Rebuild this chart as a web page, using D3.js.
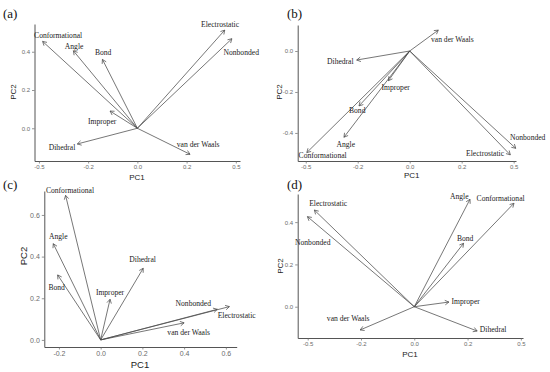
<!DOCTYPE html>
<html>
<head>
	<script src="https://d3js.org/d3.v7.min.js"></script>
	<style>
		body { margin: 0; background: #fff; }
		.var-text { font-family: "Liberation Serif", "DejaVu Serif", serif; font-size: 7.6px; fill: #222; }
		.panel-tag { font-family: "Liberation Serif", "DejaVu Serif", serif; font-size: 13px; fill: #111; }
		.tick text { font-family: "Liberation Sans", Arial, sans-serif; fill: #6b6b6b; }
		.axis-title { font-family: "Liberation Sans", Arial, sans-serif; fill: #222; }
	</style>
</head>
<body>
	<div id="chart"></div>

	<script type="text/javascript">
		// variable names (same order for every panel)
		var varNames = ["Conformational","Angle","Bond","Improper","Dihedral","van der Waals","Electrostatic","Nonbonded"];

		// loadings
		var pc1_a = [-0.385,-0.260,-0.142,-0.111,-0.244, 0.214, 0.355, 0.384];
		var pc2_a = [ 0.454, 0.405, 0.360, 0.090,-0.082,-0.136, 0.513, 0.468];
		var pc1_b = [-0.396,-0.253,-0.195,-0.082,-0.204, 0.110, 0.387, 0.408];
		var pc2_b = [-0.496,-0.421,-0.268,-0.145,-0.044, 0.102,-0.507,-0.475];
		var pc1_c = [-0.168,-0.227,-0.206, 0.045, 0.204, 0.400, 0.559, 0.617];
		var pc2_c = [ 0.694, 0.462, 0.312, 0.195, 0.344, 0.082, 0.147, 0.160];
		var pc1_d = [ 0.374, 0.209, 0.185, 0.130, 0.236,-0.203,-0.375,-0.401];
		var pc2_d = [ 0.489, 0.508, 0.300, 0.022,-0.115,-0.110, 0.457, 0.426];

		// where the repelled labels sit (data units)
		var lab1_a = [-0.322,-0.257,-0.139,-0.143,-0.306, 0.247, 0.336, 0.422];
		var lab2_a = [ 0.487, 0.430, 0.398, 0.038,-0.098,-0.082, 0.545, 0.398];
		var lab1_b = [-0.335,-0.246,-0.202,-0.054,-0.267, 0.164, 0.290, 0.454];
		var lab2_b = [-0.509,-0.455,-0.289,-0.177,-0.049, 0.057,-0.499,-0.420];
		var lab1_c = [-0.147,-0.203,-0.211, 0.045, 0.201, 0.422, 0.652, 0.444];
		var lab2_c = [ 0.719, 0.499, 0.251, 0.230, 0.385, 0.035, 0.118, 0.176];
		var lab1_d = [ 0.324, 0.169, 0.191, 0.193, 0.296,-0.248,-0.323,-0.381];
		var lab2_d = [ 0.511, 0.520, 0.325, 0.024,-0.107,-0.053, 0.489, 0.306];

		// tick values and labels
		var xTicks_abd = [-0.4,-0.2,0,0.2,0.4];
		var xLabels_abd = ["-0.5","-0.2","0.0","0.2","0.5"];
		var xTicks_c = [-0.2,0,0.2,0.4,0.6];
		var xLabels_c = ["-0.2","0.0","0.2","0.4","0.6"];
		var yTicks_ad = [0,0.2,0.4];
		var yLabels_ad = ["0.0","0.2","0.4"];
		var yTicks_b = [-0.4,-0.2,0];
		var yLabels_b = ["-0.4","-0.2","0.0"];
		var yTicks_c = [0,0.2,0.4,0.6];
		var yLabels_c = ["0.0","0.2","0.4","0.6"];

		var svg = d3.select("#chart")
			.append("svg")
			.attr("width",550)
			.attr("height",372);

		var panels = [
			{tag:"(a)", tagX:3, tagY:18, pc1:pc1_a, pc2:pc2_a, l1:lab1_a, l2:lab2_a,
			 xd:[-0.418,0.417], xr:[34.5,240], yd:[-0.171,0.545], yr:[161,24],
			 xt:xTicks_abd, xl:xLabels_abd, yt:yTicks_ad, yl:yLabels_ad,
			 tickFont:6, titleFont:8, pc1Pos:[137,180], pc2Pos:[13,92]},
			{tag:"(b)", tagX:287, tagY:18, pc1:pc1_b, pc2:pc2_b, l1:lab1_b, l2:lab2_b,
			 xd:[-0.431,0.409], xr:[297.7,516], yd:[-0.537,0.127], yr:[161,25],
			 xt:xTicks_abd, xl:xLabels_abd, yt:yTicks_b, yl:yLabels_b,
			 tickFont:6, titleFont:8, pc1Pos:[411.7,178], pc2Pos:[279,92]},
			{tag:"(c)", tagX:3, tagY:189, pc1:pc1_c, pc2:pc2_c, l1:lab1_c, l2:lab2_c,
			 xd:[-0.270,0.652], xr:[44.3,236.7], yd:[-0.034,0.715], yr:[347,191],
			 xt:xTicks_c, xl:xLabels_c, yt:yTicks_c, yl:yLabels_c,
			 tickFont:7, titleFont:9.5, pc1Pos:[140,368], pc2Pos:[24,256]},
			{tag:"(d)", tagX:287, tagY:189, pc1:pc1_d, pc2:pc2_d, l1:lab1_d, l2:lab2_d,
			 xd:[-0.4375,0.408], xr:[297.7,523], yd:[-0.148,0.533], yr:[338,194],
			 xt:xTicks_abd, xl:xLabels_abd, yt:yTicks_ad, yl:yLabels_ad,
			 tickFont:6, titleFont:8, pc1Pos:[410,357], pc2Pos:[280,266]}
		];

		panels.forEach(drawPanel);

		function drawPanel(p){
			var x = d3.scaleLinear().domain(p.xd).range(p.xr);
			var y = d3.scaleLinear().domain(p.yd).range(p.yr);
			var g = svg.append("g");

			g.append("text")
				.attr("class","panel-tag")
				.attr("x",p.tagX)
				.attr("y",p.tagY)
				.text(p.tag);

			var xAxis = g.append("g")
				.attr("transform","translate(0," + p.yr[0] + ")")
				.call(d3.axisBottom(x).tickValues(p.xt)
					.tickFormat(function(d,i){ return p.xl[i]; })
					.tickSize(2.5).tickSizeOuter(0).tickPadding(1.5));
			var yAxis = g.append("g")
				.attr("transform","translate(" + p.xr[0] + ",0)")
				.call(d3.axisLeft(y).tickValues(p.yt)
					.tickFormat(function(d,i){ return p.yl[i]; })
					.tickSize(2.5).tickSizeOuter(0).tickPadding(2));

			[xAxis,yAxis].forEach(function(a){
				a.select(".domain").attr("stroke","#555").attr("stroke-width",1);
				a.selectAll(".tick line").attr("stroke","#666").attr("stroke-width",0.7);
				a.selectAll(".tick text").style("font-size",p.tickFont + "px");
			});

			g.append("text")
				.attr("class","axis-title")
				.attr("x",p.pc1Pos[0])
				.attr("y",p.pc1Pos[1])
				.attr("text-anchor","middle")
				.style("font-size",p.titleFont + "px")
				.text("PC1");
			g.append("text")
				.attr("class","axis-title")
				.attr("transform","translate(" + p.pc2Pos[0] + "," + p.pc2Pos[1] + ") rotate(-90)")
				.attr("text-anchor","middle")
				.attr("dy","0.35em")
				.style("font-size",p.titleFont + "px")
				.text("PC2");

			var rows = varNames.map(function(n,i){
				return {name:n, a:p.pc1[i], b:p.pc2[i], la:p.l1[i], lb:p.l2[i]};
			});

			var arrows = g.append("g");
			arrows.selectAll("line")
				.data(rows)
				.enter().append("line")
				.attr("x1",x(0)).attr("y1",y(0))
				.attr("x2",function(d){ return x(d.a); })
				.attr("y2",function(d){ return y(d.b); })
				.attr("stroke","#4a4a4a")
				.attr("stroke-width",0.75);

			// open arrow heads
			arrows.selectAll("path")
				.data(rows)
				.enter().append("path")
				.attr("d",function(d){
					var tx = x(d.a), ty = y(d.b);
					var ang = Math.atan2(ty - y(0), tx - x(0));
					var len = 4.5, spread = Math.PI/6;
					var p1 = [tx - len*Math.cos(ang - spread), ty - len*Math.sin(ang - spread)];
					var p2 = [tx - len*Math.cos(ang + spread), ty - len*Math.sin(ang + spread)];
					return "M" + p1 + "L" + tx + "," + ty + "L" + p2;
				})
				.attr("fill","none")
				.attr("stroke","#4a4a4a")
				.attr("stroke-width",0.75);

			g.append("g").selectAll("text")
				.data(rows)
				.enter().append("text")
				.attr("class","var-text")
				.attr("x",function(d){ return x(d.la); })
				.attr("y",function(d){ return y(d.lb); })
				.attr("text-anchor","middle")
				.attr("dy","0.35em")
				.text(function(d){ return d.name; });
		}
	</script>
</body>
</html>
